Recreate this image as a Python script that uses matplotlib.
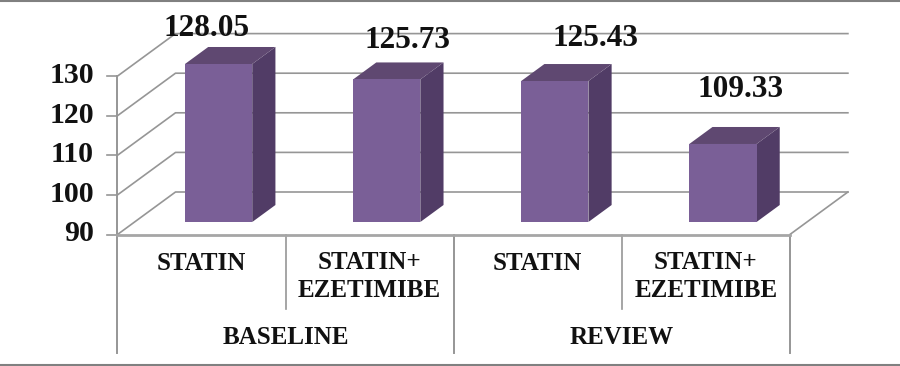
import matplotlib
matplotlib.use("Agg")
import matplotlib.pyplot as plt
from matplotlib.patches import Polygon

# chart data
categories = ["STATIN", "STATIN+\nEZETIMIBE", "STATIN", "STATIN+\nEZETIMIBE"]
groups = ["BASELINE", "REVIEW"]
value_labels = ["128.05", "125.73", "125.43", "109.33"]
# bar heights as drawn in the picture (first bar is drawn taller than its label says)
bar_heights = [129.9, 126.0, 125.6, 109.7]
y_ticks = [90, 100, 110, 120, 130]

# label offsets from bar top centre, in pixels
label_dx = [-12, 21, 41, 18]
label_dy = [35, 39, 43, 54]

W, H = 900, 366
GRID = "#969696"
FRONT = "#7a5f97"
TOP = "#5f4871"
SIDE = "#513c66"
FONT = ["Liberation Serif", "DejaVu Serif"]

PX_CAT = 168.1  # pixels per category
PX_VAL = 3.96   # pixels per y unit
DX = 58 / PX_CAT    # depth of the box
DY = 42.5 / PX_VAL

fig = plt.figure(figsize=(W / 100, H / 100), dpi=100)
ax = fig.add_axes([0, 0, 1, 1])
ax.set_xlim(-117.5 / PX_CAT, (W - 117.5) / PX_CAT)
ax.set_ylim(90 - (H - 234.5) / PX_VAL, 90 + 234.5 / PX_VAL)
ax.axis("off")


def proj(c, v, d=0.0):
    return c + d * DX, v + d * DY


def px_y(p):
    return 1 - p / H


tr = ax.get_xaxis_transform()

# walls and floor
for t in y_ticks:
    x0, y0 = proj(0, t)
    x1, y1 = proj(0, t, 1)
    x2, y2 = proj(4, t, 1)
    ax.plot([x0, x1, x2], [y0, y1, y2], color=GRID, lw=1.2, zorder=1)
    ax.plot([x0 - 10 / PX_CAT, x0], [y0, y0], color=GRID, lw=1.2, zorder=1)
    ax.annotate(str(t), (x0, y0), xytext=(-23.5, 0.5), textcoords="offset pixels",
                ha="right", va="center", fontsize=21.5, fontweight="bold",
                family=FONT, color="#111111", zorder=5)

x1, y1 = proj(4, 90, 1)
x2, y2 = proj(4, 90)
ax.plot([x1, x2], [y1, y2], color=GRID, lw=1.2, zorder=1)
ax.plot([0, 0], [90, y_ticks[-1]], color=GRID, lw=1.4, zorder=1)
ax.plot([0, 4], [90, 90], color="#a6a6a6", lw=2.0, zorder=4)

# bars
BAR_W = 0.4
D0, D1 = 12.5 / 42.5, 29.5 / 42.5
for i, h in enumerate(bar_heights):
    c0 = i + 0.5 - BAR_W / 2
    c1 = i + 0.5 + BAR_W / 2
    side = [proj(c1, 90, D0), proj(c1, h, D0), proj(c1, h, D1), proj(c1, 90, D1)]
    top = [proj(c0, h, D0), proj(c1, h, D0), proj(c1, h, D1), proj(c0, h, D1)]
    front = [proj(c0, 90, D0), proj(c1, 90, D0), proj(c1, h, D0), proj(c0, h, D0)]
    ax.add_patch(Polygon(side, fc=SIDE, ec="none", zorder=3))
    ax.add_patch(Polygon(top, fc=TOP, ec="none", zorder=3))
    ax.add_patch(Polygon(front, fc=FRONT, ec="none", zorder=3))
    ax.annotate(value_labels[i], proj(i + 0.5, h, D0),
                xytext=(label_dx[i], label_dy[i]), textcoords="offset pixels",
                ha="center", va="center", fontsize=22.5, fontweight="bold",
                family=FONT, color="#111111", zorder=6)

# multi level category axis
for c in [0, 2, 4]:
    ax.plot([c, c], [px_y(234.5), px_y(353)], transform=tr, color=GRID, lw=1.4, zorder=1)
for c in [1, 3]:
    ax.plot([c, c], [px_y(234.5), px_y(309)], transform=tr, color=GRID, lw=1.2, zorder=1)

for i, name in enumerate(categories):
    ax.text(i + 0.5, px_y(263 if "\n" not in name else 276.5), name, transform=tr,
            ha="center", va="center", fontsize=18, fontweight="bold", family=FONT,
            color="#111111", linespacing=1.3)
for i, name in enumerate(groups):
    ax.text(2 * i + 1, px_y(337), name, transform=tr, ha="center", va="center",
            fontsize=18, fontweight="bold", family=FONT, color="#111111")

# outer border of the picture
fig.add_artist(plt.Line2D([0, 1], [px_y(0.5)] * 2, color="#808080", lw=1.5))
fig.add_artist(plt.Line2D([0, 1], [px_y(365)] * 2, color="#808080", lw=1.5))

fig.savefig("out.png", dpi=100, facecolor="white")
